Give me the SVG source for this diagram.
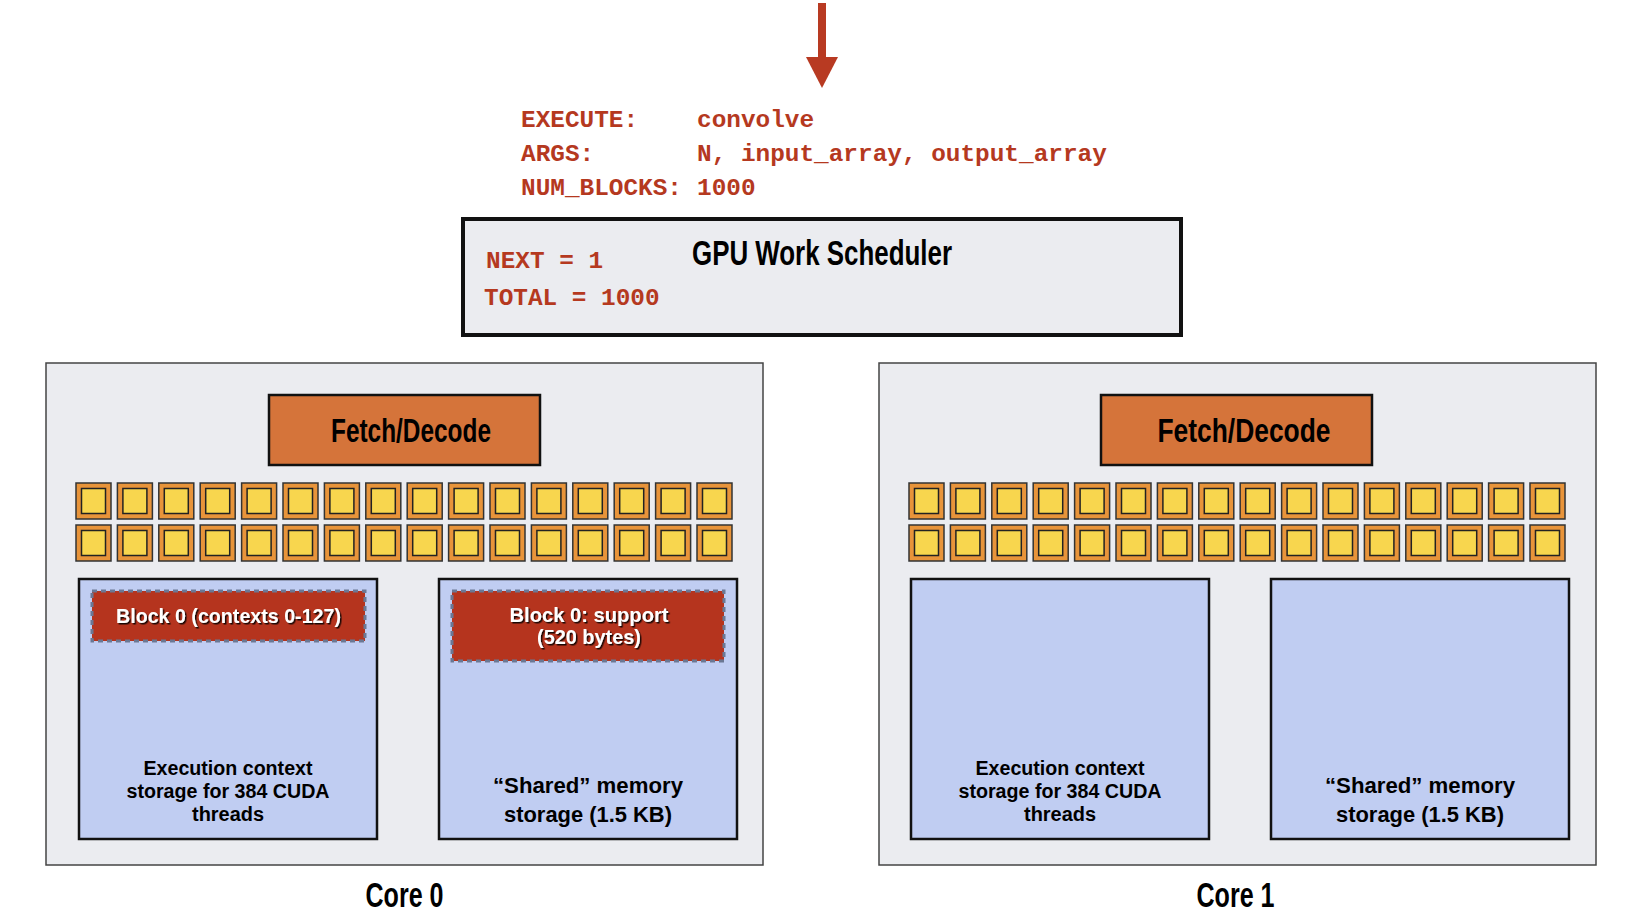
<svg xmlns="http://www.w3.org/2000/svg" width="1630" height="922" viewBox="0 0 1630 922">
  <defs>
    <style>
      .mono { font-family: "Liberation Mono", "DejaVu Sans Mono", monospace; font-weight: bold; font-size: 24.4px; fill: #B5391F; }
      .title { font-family: "Liberation Sans", Arial, sans-serif; font-weight: bold; fill: #000; }
      .lbl { font-family: "Liberation Sans", Arial, sans-serif; font-weight: bold; fill: #000; text-anchor: middle; }
      .wlbl { font-family: "Liberation Sans", Arial, sans-serif; font-weight: bold; fill: #fff; text-anchor: middle; font-size: 21px; filter: url(#shadow); }
      .core { fill: #EBECF0; stroke: #444; stroke-width: 1.5; }
      .sched { fill: #EBECF0; stroke: #111; stroke-width: 4; }
      .fetch { fill: #D5743A; stroke: #111; stroke-width: 2.5; }
      .alu-o { fill: #E8943A; stroke: #333; stroke-width: 1.5; }
      .alu-i { fill: #F8D64E; stroke: #222; stroke-width: 1.5; }
      .store { fill: #C0CDF2; stroke: #111; stroke-width: 2.5; }
      .blk { fill: #B5341E; stroke: #6B7894; stroke-width: 3; stroke-dasharray: 5 4; }
    </style>
    <filter id="shadow" x="-10%" y="-30%" width="120%" height="160%">
      <feDropShadow dx="1.5" dy="1.5" stdDeviation="0.6" flood-color="#000" flood-opacity="0.85"/>
    </filter>
    <g id="alu">
      <rect class="alu-o" x="0" y="0" width="35" height="36"/>
      <rect class="alu-i" x="5.5" y="5.5" width="24" height="25"/>
    </g>
    <g id="aluRow">
      <use href="#alu" x="0"/>
      <use href="#alu" x="41.4"/>
      <use href="#alu" x="82.8"/>
      <use href="#alu" x="124.2"/>
      <use href="#alu" x="165.6"/>
      <use href="#alu" x="207"/>
      <use href="#alu" x="248.4"/>
      <use href="#alu" x="289.8"/>
      <use href="#alu" x="331.2"/>
      <use href="#alu" x="372.6"/>
      <use href="#alu" x="414"/>
      <use href="#alu" x="455.4"/>
      <use href="#alu" x="496.8"/>
      <use href="#alu" x="538.2"/>
      <use href="#alu" x="579.6"/>
      <use href="#alu" x="621"/>
    </g>
  </defs>

  <rect x="0" y="0" width="1630" height="922" fill="#fff"/>

  <g id="connectors">
    <rect x="818" y="3" width="8" height="56" fill="#B83A22"/>
    <polygon points="806,57 838,57 822,88" fill="#B83A22"/>
  </g>

  <g id="launch-command">
    <text class="mono" x="521" y="127">EXECUTE:</text>
    <text class="mono" x="697" y="127">convolve</text>
    <text class="mono" x="521" y="161">ARGS:</text>
    <text class="mono" x="697" y="161">N, input_array, output_array</text>
    <text class="mono" x="521" y="195">NUM_BLOCKS:</text>
    <text class="mono" x="697" y="195">1000</text>
  </g>

  <g id="scheduler">
    <rect class="sched" x="463" y="219" width="718" height="116"/>
    <text class="mono" x="486" y="268">NEXT = 1</text>
    <text class="mono" x="484" y="305">TOTAL = 1000</text>
    <text class="title" x="692" y="265" font-size="35" textLength="260" lengthAdjust="spacingAndGlyphs">GPU Work Scheduler</text>
  </g>

  <g id="core0">
    <rect class="core" x="46" y="363" width="717" height="502"/>
    <rect class="fetch" x="269" y="395" width="271" height="70"/>
    <text class="lbl" x="411" y="442" font-size="33" textLength="160" lengthAdjust="spacingAndGlyphs">Fetch/Decode</text>
    <use href="#aluRow" x="76" y="483"/>
    <use href="#aluRow" x="76" y="525"/>
    <g id="core0-ctx">
      <rect class="store" x="79" y="579" width="298" height="260"/>
      <rect class="blk" x="92" y="591" width="273" height="50"/>
      <text class="wlbl" x="228.5" y="623" textLength="225" lengthAdjust="spacingAndGlyphs">Block 0 (contexts 0-127)</text>
      <text class="lbl" x="228" y="775" font-size="20" textLength="169" lengthAdjust="spacingAndGlyphs">Execution context</text>
      <text class="lbl" x="228" y="798" font-size="20" textLength="203" lengthAdjust="spacingAndGlyphs">storage for 384 CUDA</text>
      <text class="lbl" x="228" y="821" font-size="20" textLength="72" lengthAdjust="spacingAndGlyphs">threads</text>
    </g>
    <g id="core0-shared">
      <rect class="store" x="439" y="579" width="298" height="260"/>
      <rect class="blk" x="452" y="591" width="272" height="70"/>
      <text class="wlbl" x="589" y="622" textLength="159" lengthAdjust="spacingAndGlyphs">Block 0: support</text>
      <text class="wlbl" x="589" y="644" textLength="104" lengthAdjust="spacingAndGlyphs">(520 bytes)</text>
      <text class="lbl" x="588" y="793" font-size="22" textLength="190" lengthAdjust="spacingAndGlyphs">“Shared” memory</text>
      <text class="lbl" x="588" y="822" font-size="22" textLength="168" lengthAdjust="spacingAndGlyphs">storage (1.5 KB)</text>
    </g>
    <text class="lbl" x="404.5" y="907" font-size="35" textLength="78" lengthAdjust="spacingAndGlyphs">Core 0</text>
  </g>

  <g id="core1">
    <rect class="core" x="879" y="363" width="717" height="502"/>
    <rect class="fetch" x="1101" y="395" width="271" height="70"/>
    <text class="lbl" x="1244" y="442" font-size="33" textLength="173" lengthAdjust="spacingAndGlyphs">Fetch/Decode</text>
    <use href="#aluRow" x="909" y="483"/>
    <use href="#aluRow" x="909" y="525"/>
    <g id="core1-ctx">
      <rect class="store" x="911" y="579" width="298" height="260"/>
      <text class="lbl" x="1060" y="775" font-size="20" textLength="169" lengthAdjust="spacingAndGlyphs">Execution context</text>
      <text class="lbl" x="1060" y="798" font-size="20" textLength="203" lengthAdjust="spacingAndGlyphs">storage for 384 CUDA</text>
      <text class="lbl" x="1060" y="821" font-size="20" textLength="72" lengthAdjust="spacingAndGlyphs">threads</text>
    </g>
    <g id="core1-shared">
      <rect class="store" x="1271" y="579" width="298" height="260"/>
      <text class="lbl" x="1420" y="793" font-size="22" textLength="190" lengthAdjust="spacingAndGlyphs">“Shared” memory</text>
      <text class="lbl" x="1420" y="822" font-size="22" textLength="168" lengthAdjust="spacingAndGlyphs">storage (1.5 KB)</text>
    </g>
    <text class="lbl" x="1235.5" y="907" font-size="35" textLength="78" lengthAdjust="spacingAndGlyphs">Core 1</text>
  </g>
</svg>
